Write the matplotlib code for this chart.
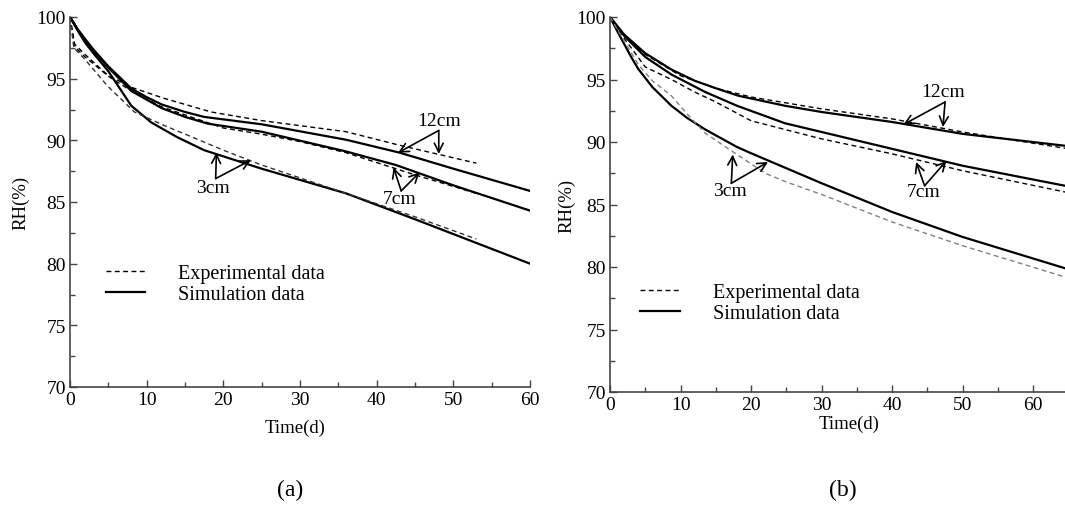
import matplotlib
matplotlib.use("Agg")
import matplotlib.pyplot as plt
from matplotlib.lines import Line2D
from matplotlib.ticker import MultipleLocator

plt.rc('font', family='Liberation Serif')

# ---- panel (a) ----
a_sim12_x = [0, 1, 2, 3, 5, 8, 10, 12, 15, 17.5, 25, 36, 43, 50, 60]
a_sim12_y = [100, 99.0, 98.2, 97.4, 96.0, 94.2, 93.5, 92.9, 92.3, 91.9, 91.3, 90.05, 89.0, 87.7, 85.9]
a_sim7_x = [0, 1, 2, 3, 5, 8, 10, 12, 15, 18, 25, 36, 42.5, 50, 60]
a_sim7_y = [100, 99.0, 98.1, 97.3, 95.9, 94.0, 93.3, 92.6, 91.9, 91.35, 90.7, 89.1, 88.0, 86.35, 84.3]
a_sim3_x = [0, 1, 2, 3, 5, 8, 10.6, 14, 17.5, 25, 36, 45, 60]
a_sim3_y = [100, 98.9, 97.9, 97.1, 95.6, 92.8, 91.45, 90.25, 89.2, 87.7, 85.7, 83.6, 80.0]

a_exp12_x = [0, 0.6, 1.9, 4.9, 8, 12.3, 18.4, 25, 36, 43, 53]
a_exp12_y = [100, 97.8, 97.0, 95.3, 94.3, 93.4, 92.3, 91.6, 90.7, 89.6, 88.15]
a_exp7_x = [0, 0.6, 1.9, 5, 8, 12, 20, 25, 30, 36, 45, 53]
a_exp7_y = [100, 97.6, 96.8, 95.2, 94.0, 92.7, 91.0, 90.5, 89.9, 89.0, 87.2, 85.7]
a_exp3_x = [0, 0.5, 1.9, 4.9, 8.4, 12.3, 15.8, 20, 25, 36, 45, 53]
a_exp3_y = [100, 97.5, 96.6, 94.4, 92.3, 91.2, 90.3, 89.2, 88.0, 85.7, 83.8, 82.0]

# ---- panel (b) ----
b_sim12_x = [0, 2, 5, 8.7, 12, 15, 18.2, 24.8, 30, 40, 50, 64.5]
b_sim12_y = [100, 98.6, 97.1, 95.8, 94.9, 94.3, 93.7, 92.9, 92.4, 91.6, 90.65, 89.7]
b_sim7_x = [0, 2, 5, 8.7, 13.5, 18, 24.8, 30, 40, 50, 64.5]
b_sim7_y = [100, 98.5, 96.8, 95.4, 94.0, 92.9, 91.5, 90.8, 89.45, 88.1, 86.5]
b_sim3_x = [0, 1, 2, 3, 4, 6, 8.7, 11, 13.5, 18, 20, 25, 30, 40, 50, 64.5]
b_sim3_y = [100, 98.9, 97.85, 96.8, 95.85, 94.4, 92.9, 91.9, 91.0, 89.6, 89.1, 87.9, 86.7, 84.4, 82.4, 79.9]

b_exp12_x = [0, 2, 5, 10, 15, 20, 30, 40, 50, 64.5]
b_exp12_y = [100, 98.5, 97.0, 95.3, 94.3, 93.6, 92.65, 91.85, 90.8, 89.5]
b_exp7_x = [0, 2, 5, 8.7, 12, 15, 20, 24.8, 30, 40, 50, 64.5]
b_exp7_y = [100, 98.3, 96.0, 95.0, 94.0, 93.2, 91.7, 91.0, 90.25, 89.05, 87.7, 86.0]
b_exp3_x = [0, 2, 4, 6, 8.7, 11, 13.5, 18, 22, 25, 30, 40, 50, 64.5]
b_exp3_y = [100, 98.1, 96.2, 94.9, 93.7, 92.2, 90.7, 89.0, 87.5, 86.8, 85.8, 83.6, 81.7, 79.2]

# labels and arrows: (text, text position, arrow origin, arrow targets)
a_notes = [("12cm", (48.2, 91.6), (48.1, 90.8), [(42.8, 89.0), (48.1, 88.9)]),
           ("7cm", (43.0, 85.3), (43.2, 85.9), [(42.2, 87.8), (45.6, 87.4)]),
           ("3cm", (18.7, 86.2), (19.0, 86.9), [(19.1, 89.0), (23.6, 88.4)])]
b_notes = [("12cm", (47.2, 94.0), (47.5, 93.2), [(41.6, 91.4), (47.2, 91.2)]),
           ("7cm", (44.4, 86.0), (44.6, 86.5), [(43.4, 88.4), (47.7, 88.5)]),
           ("3cm", (17.0, 86.1), (17.2, 86.7), [(17.4, 89.0), (22.4, 88.4)])]

DASH = (0, (3.5, 2.5))


def style_axes(ax, xmax):
    ax.set_xlim(0, xmax)
    ax.set_ylim(70, 100)
    for s in ['top', 'right']:
        ax.spines[s].set_visible(False)
    for s in ['left', 'bottom']:
        ax.spines[s].set_color('#444444')
        ax.spines[s].set_linewidth(1.2)
    ax.xaxis.set_major_locator(MultipleLocator(10))
    ax.xaxis.set_minor_locator(MultipleLocator(5))
    ax.yaxis.set_major_locator(MultipleLocator(5))
    ax.yaxis.set_minor_locator(MultipleLocator(2.5))
    ax.tick_params(which='both', direction='in', color='#444444', labelsize=14, pad=3)
    ax.tick_params(which='major', length=5, width=1.0)
    ax.tick_params(which='minor', length=3.5, width=1.0)


def draw_panel(ax, sims, exps, exp3_color, notes, leg_anchor):
    for x, y in sims:
        ax.plot(x, y, color='k', lw=1.6, solid_joinstyle='round')
    for i, (x, y) in enumerate(exps):
        c = exp3_color if i == 2 else 'k'
        ax.plot(x, y, color=c, lw=1.0, linestyle=DASH)

    for txt, tpos, origin, targets in notes:
        ax.text(tpos[0], tpos[1], txt, fontsize=14, ha='center', va='center')
        for t in targets:
            ax.annotate('', xy=t, xytext=origin,
                        arrowprops=dict(arrowstyle='->', lw=1.2, color='k',
                                        shrinkA=0, shrinkB=0, mutation_scale=16))

    handles = [Line2D([], [], color='k', lw=1.0, linestyle=DASH),
               Line2D([], [], color='k', lw=1.6)]
    ax.legend(handles, ['Experimental data', 'Simulation data'],
              loc='upper left', bbox_to_anchor=leg_anchor, frameon=False,
              fontsize=14.5, handlelength=1.95, handletextpad=1.65,
              labelspacing=0.1, borderpad=0, borderaxespad=0)


fig = plt.figure(figsize=(10.65, 5.06), dpi=100)

ax1 = fig.add_axes([70 / 1065, 1 - 388 / 506, 460 / 1065, 370 / 506])
style_axes(ax1, 60)
draw_panel(ax1,
           [(a_sim12_x, a_sim12_y), (a_sim7_x, a_sim7_y), (a_sim3_x, a_sim3_y)],
           [(a_exp12_x, a_exp12_y), (a_exp7_x, a_exp7_y), (a_exp3_x, a_exp3_y)],
           '#333333', a_notes, (0.078, 0.332))
ax1.set_xlabel('Time(d)', fontsize=13.5)
ax1.set_ylabel('RH(%)', fontsize=13.5)
ax1.xaxis.set_label_coords(0.49, -0.085)
ax1.yaxis.set_label_coords(-0.088, 0.5)

ax2 = fig.add_axes([610 / 1065, 1 - 393 / 506, 455 / 1065, 375 / 506])
style_axes(ax2, 64.5)
draw_panel(ax2,
           [(b_sim12_x, b_sim12_y), (b_sim7_x, b_sim7_y), (b_sim3_x, b_sim3_y)],
           [(b_exp12_x, b_exp12_y), (b_exp7_x, b_exp7_y), (b_exp3_x, b_exp3_y)],
           '#808080', b_notes, (0.067, 0.292))
ax2.set_xlabel('Time(d)', fontsize=13.5)
ax2.set_ylabel('RH(%)', fontsize=13.5)
ax2.xaxis.set_label_coords(0.525, -0.06)
ax2.yaxis.set_label_coords(-0.075, 0.5)

fig.text(290 / 1065, 1 - 490 / 506, '(a)', fontsize=17, ha='center', va='center')
fig.text(843 / 1065, 1 - 490 / 506, '(b)', fontsize=17, ha='center', va='center')

fig.savefig('out.png', dpi=100)
